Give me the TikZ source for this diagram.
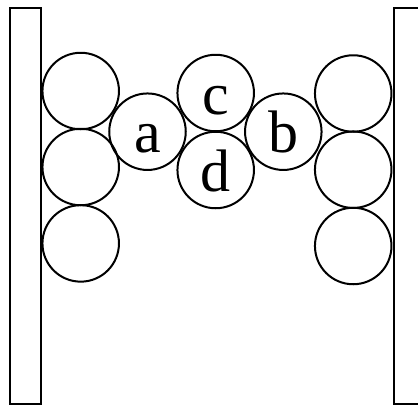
\documentclass[tikz,border=0pt]{standalone}
\usepackage{fontspec}
\setmainfont{Liberation Serif}
\begin{document}
\begin{tikzpicture}[x=1pt,y=1pt,
  ball/.style={circle,draw,line width=2pt,minimum size=76.5pt,inner sep=0pt,
    font=\fontsize{60}{60}\selectfont,text height=42pt,text depth=0pt},
  wall/.style={draw,line width=2pt}]
\useasboundingbox (0,0) rectangle (418,-405);
\begin{scope}
\clip (0,0) rectangle (418,-405);
\draw[wall] (9.5,-7.5) rectangle (40.5,-403.5);
\draw[wall] (394,-7.5) rectangle (430,-403.5);
\end{scope}
\node[ball] (l1) at (80.7,-91) {};
\node[ball] (l2) at (80.7,-167) {};
\node[ball] (l3) at (80.7,-243.4) {};
\node[ball] (r1) at (353.2,-93.5) {};
\node[ball] (r2) at (353.2,-169.7) {};
\node[ball] (r3) at (353.2,-246) {};
\node[ball] (a) at (147.5,-131.7) {a};
\node[ball] (c) at (215.7,-93) {c};
\node[ball] (d) at (215.7,-170) {d};
\node[ball] (b) at (283.3,-131.7) {b};
\end{tikzpicture}
\end{document}
